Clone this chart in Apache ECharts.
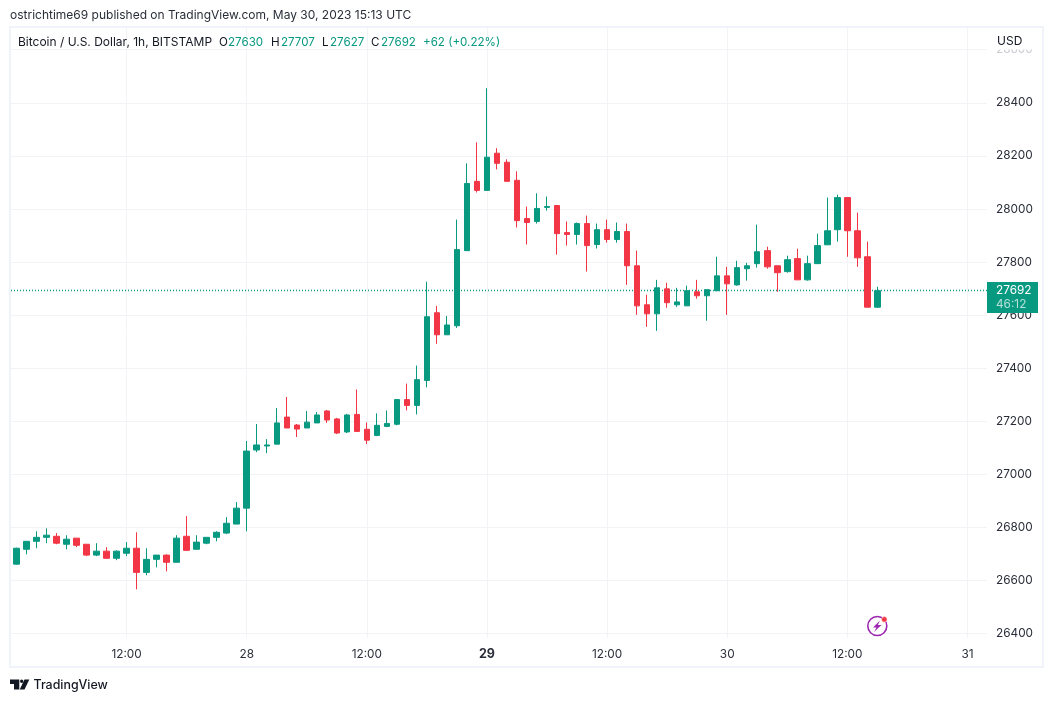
<!DOCTYPE html>
<html><head><meta charset="utf-8">
<style>html,body{margin:0;padding:0;background:#fff}#c{width:1053px;height:702px}</style>
<script src="https://cdn.jsdelivr.net/npm/echarts@6/dist/echarts.min.js"></script>
</head><body><div id="c"></div>
<script>
const opens=[26662,26718,26748,26763,26767,26737,26760,26737,26696,26711,26684,26703,26722,26631,26680,26696,26669,26767,26718,26741,26763,26779,26813,26873,27092,27107,27114,27216,27186,27175,27194,27239,27209,27160,27226,27170,27147,27181,27189,27282,27260,27354,27609,27526,27560,27843,28104,28070,28210,28176,28108,27964,27953,28006,28013,27911,27904,27945,27866,27922,27885,27915,27786,27639,27605,27699,27639,27635,27688,27673,27692,27748,27714,27775,27794,27843,27786,27764,27813,27733,27794,27865,27922,28043,27918,27820,27630];
const closes=[26722,26748,26763,26771,26741,26756,26733,26696,26711,26684,26711,26722,26631,26680,26696,26669,26760,26714,26745,26763,26782,26816,26873,27088,27111,27111,27194,27175,27171,27197,27224,27205,27156,27224,27162,27129,27185,27192,27282,27260,27357,27594,27526,27563,27847,28096,28070,28195,28172,28104,27956,27949,28002,28009,27907,27904,27945,27862,27922,27885,27915,27786,27635,27605,27703,27647,27650,27692,27673,27696,27748,27718,27779,27786,27839,27782,27760,27809,27733,27794,27862,27918,28043,27918,27816,27630,27692];
const lows=[26660,26699,26722,26741,26737,26718,26726,26692,26692,26684,26677,26692,26567,26620,26650,26635,26669,26714,26718,26737,26748,26775,26813,26786,27084,27080,27114,27175,27141,27175,27194,27194,27152,27156,27162,27114,27144,27178,27185,27241,27226,27328,27492,27526,27552,27843,28062,28070,28149,28104,27930,27866,27945,27994,27828,27862,27866,27764,27851,27873,27873,27714,27601,27556,27541,27628,27631,27635,27662,27579,27692,27601,27711,27730,27779,27775,27688,27760,27733,27730,27794,27865,27877,27820,27782,27630,27627];
const highs=[26724,26748,26786,26797,26779,26771,26760,26737,26741,26726,26714,26745,26782,26722,26696,26699,26771,26843,26771,26763,26786,26839,26896,27126,27190,27133,27250,27292,27190,27239,27235,27243,27213,27228,27320,27196,27230,27241,27282,27342,27410,27726,27635,27597,27960,28172,28251,28455,28229,28187,28142,28009,28059,28047,28013,27953,27949,27975,27945,27960,27949,27945,27843,27677,27733,27722,27703,27711,27733,27696,27820,27782,27805,27797,27941,27858,27786,27824,27850,27824,27907,28043,28054,28043,27986,27877,27707];
const lastPrice=27692;
const countdown='46:12';
const priceMin=26400, priceMax=28600, priceStep=200;
const plotMin=26383.8, plotMax=28685.5;
const firstDay=27, firstHour=1, slotCount=97;
const categories=[];
for(let i=0;i<slotCount;i++){
  const t=firstHour+i;
  categories.push({day:firstDay+Math.floor(t/24),hour:t%24});
}
const catNames=categories.map(c=>c.day+' '+String(c.hour).padStart(2,'0')+':00');
const isTick=i=>categories[i].hour===0||categories[i].hour===12;
const boldDay=29;
const candles=opens.map((o,i)=>[o,closes[i],lows[i],highs[i]]);

const GREEN='#089981',RED='#F23645',GRID='#F2F3F6',TXT='#2A2E39',FONT='Inter, "Liberation Sans", sans-serif';
const chart=echarts.init(document.getElementById('c'),null,{renderer:'canvas'});
const txt=(x,y,t,fill,size,extra)=>({type:'text',x,y,z:200,style:Object.assign({text:t,fill,font:size+'px '+FONT,textVerticalAlign:'middle'},extra||{})});
chart.setOption({
  animation:false,
  backgroundColor:'#fff',
  grid:[
    {left:11,top:49.7,width:976,height:584},
    {left:11.5,top:27,width:970.97,height:611}
  ],
  xAxis:[
    {gridIndex:0,type:'category',data:catNames,show:false},
    {gridIndex:1,type:'category',data:catNames,position:'bottom',
      axisLine:{show:false},axisTick:{show:false},
      splitLine:{show:true,alignWithLabel:true,interval:i=>isTick(i),lineStyle:{color:GRID,width:1}},
      axisLabel:{interval:i=>isTick(i),margin:10,fontFamily:FONT,fontSize:11.8,color:TXT,
        formatter:(v,i)=>{const c=categories[i];if(c.hour===12)return '12:00';return c.day===boldDay?'{b|'+c.day+'}':String(c.day);},
        rich:{b:{fontWeight:700,fontFamily:FONT,fontSize:12.5,color:TXT}}}}
  ],
  yAxis:[
    {gridIndex:0,type:'value',position:'right',min:priceMin,max:priceMax,interval:priceStep,
      axisLine:{show:false},axisTick:{show:false},
      splitLine:{show:true,lineStyle:{color:GRID,width:1}},
      axisLabel:{margin:9,align:'left',fontFamily:FONT,fontSize:11.8,
        color:v=>Number(v)===priceMax?'#C9CBD1':TXT,formatter:v=>String(v)}},
    {gridIndex:1,type:'value',min:plotMin,max:plotMax,show:false,splitLine:{show:false}}
  ],
  series:[
    {type:'line',xAxisIndex:0,yAxisIndex:0,data:[],silent:true,z:3,
      markLine:{silent:true,symbol:'none',label:{show:false},
        lineStyle:{color:GREEN,type:[1,2],width:1.4,opacity:1},data:[{yAxis:lastPrice}]}},
    {type:'candlestick',xAxisIndex:1,yAxisIndex:1,data:candles,barWidth:6,z:5,
      itemStyle:{color:GREEN,color0:RED,borderColor:GREEN,borderColor0:RED,borderWidth:1}}
  ],
  graphic:{elements:[
    {type:'rect',z:150,shape:{x:988,y:28,width:53,height:21.5},style:{fill:'#fff'}},
    {type:'rect',z:160,shape:{x:10,y:27,width:1033,height:640},style:{fill:'none',stroke:'#F0F3FA',lineWidth:2}},
    txt(10,15.5,'ostrichtime69 published on TradingView.com, May 30, 2023 15:13 UTC','#2A2E39',12),
    txt(18,42.5,'Bitcoin / U.S. Dollar, 1h, BITSTAMP','#131722',12),
    txt(219,42.5,'O','#131722',11.6),txt(228,42.5,'27630',GREEN,11.6),
    txt(271,42.5,'H','#131722',11.6),txt(281,42.5,'27707',GREEN,11.6),
    txt(322,42.5,'L','#131722',11.6),txt(330,42.5,'27627',GREEN,11.6),
    txt(371,42.5,'C','#131722',11.6),txt(381,42.5,'27692',GREEN,11.6),
    txt(423,42.5,'+62 (+0.22%)',GREEN,11.6),
    txt(997,41,'USD','#131722',12),
    {type:'rect',z:170,shape:{x:987,y:282,width:51,height:31},style:{fill:GREEN}},
    txt(996,290.5,String(lastPrice),'#fff',11.8),
    txt(996,304.5,countdown,'rgba(255,255,255,0.7)',11.8),
    {type:'circle',z:180,shape:{cx:877.3,cy:626,r:9.5},style:{fill:'#fff',stroke:'#9C27B0',lineWidth:1.6}},
    {type:'polygon',z:181,shape:{points:[[880,620.5],[873,627.5],[876.5,627.5],[874,632],[881.5,625],[877.8,625]]},style:{fill:'#9C27B0'}},
    {type:'circle',z:182,shape:{cx:884.3,cy:619.4,r:2.8},style:{fill:RED,stroke:'#fff',lineWidth:0.6}},
    {type:'polygon',z:180,shape:{points:[[10,679.5],[19.3,679.5],[19.3,689.5],[14,689.5],[14,684],[10,684]]},style:{fill:'#131722'}},
    {type:'circle',z:180,shape:{cx:21.7,cy:681.2,r:1.7},style:{fill:'#131722'}},
    {type:'polygon',z:180,shape:{points:[[24.5,679.5],[29.3,679.5],[24.5,689.5],[19.7,689.5]]},style:{fill:'#131722'}},
    txt(33.5,685.5,'TradingView','#131722',12.4,{font:'500 12.4px '+FONT})
  ]}
});
</script></body></html>
